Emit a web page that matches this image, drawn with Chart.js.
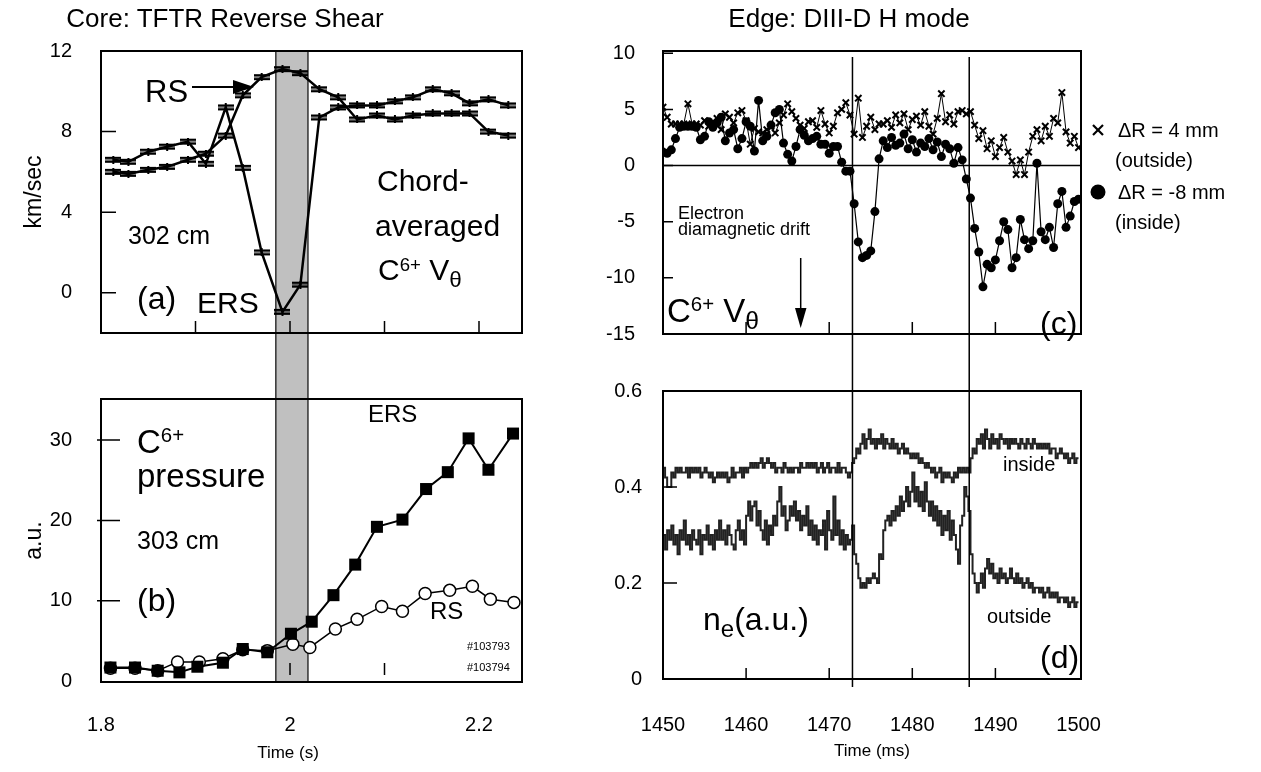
<!DOCTYPE html>
<html>
<head>
<meta charset="utf-8">
<script src="https://cdn.jsdelivr.net/npm/chart.js@4.4.1/dist/chart.umd.min.js"></script>
<style>
    body { margin: 0; background: #fff; }
    #page { position: relative; width: 1261px; height: 772px; overflow: hidden;
            font-family: 'Liberation Sans', Arial, sans-serif; color: #000; }
    #page canvas { position: absolute; }
    .t { position: absolute; white-space: nowrap; line-height: 1; }
    .t sup { font-size: 0.62em; vertical-align: 0.5em; line-height: 0; }
    .t sub { font-size: 0.75em; vertical-align: -0.3em; line-height: 0; }
    svg { position: absolute; left: 0; top: 0; }
</style>
</head>
<body>
<div id="page">
    <canvas id="chartA" width="560" height="366" style="left:0;top:0"></canvas>
    <canvas id="chartB" width="560" height="406" style="left:0;top:366px"></canvas>
    <canvas id="chartC" width="701" height="366" style="left:560px;top:0"></canvas>
    <canvas id="chartD" width="701" height="406" style="left:560px;top:366px"></canvas>
    <svg width="1261" height="772">
        <line x1="192" y1="87" x2="236" y2="87" stroke="#000" stroke-width="2"/>
        <polygon points="233,80 233,94 254,87" fill="#000"/>
        <line x1="800.7" y1="258" x2="800.7" y2="312" stroke="#000" stroke-width="1.5"/>
        <polygon points="795,308 806.5,308 800.7,328" fill="#000"/>
        <line x1="1093" y1="125" x2="1103" y2="135" stroke="#000" stroke-width="2.2"/>
        <line x1="1093" y1="135" x2="1103" y2="125" stroke="#000" stroke-width="2.2"/>
        <circle cx="1098" cy="192" r="7.5" fill="#000"/>
    </svg>
</div>

<script>
// ---- Panel (a): chord-averaged C6+ V_theta, km/sec
const aTime = [1.813, 1.829, 1.850, 1.870, 1.892, 1.911, 1.932, 1.950, 1.970, 1.992, 2.011,
               2.031, 2.051, 2.071, 2.092, 2.111, 2.130, 2.151, 2.171, 2.190, 2.210, 2.231];
const aERS = [6.6, 6.5, 7.0, 7.25, 7.5, 6.4, 9.2, 6.2, 2.0, -0.95, 0.4,
              8.7, 9.2, 9.3, 9.3, 9.5, 9.7, 10.1, 9.9, 9.4, 9.6, 9.3];
const aRS  = [6.0, 5.9, 6.1, 6.25, 6.6, 6.9, 7.8, 9.8, 10.7, 11.1, 10.9,
              10.1, 9.7, 8.6, 8.8, 8.6, 8.8, 8.9, 8.9, 8.9, 8.0, 7.8];
const aYTicks = [0, 4, 8, 12];

// ---- Panel (b): C6+ pressure, a.u.
const bTimeERS = [1.810, 1.836, 1.860, 1.883, 1.902, 1.929, 1.950, 1.976, 2.001, 2.023,
                  2.046, 2.069, 2.092, 2.119, 2.144, 2.167, 2.189, 2.210, 2.236];
const bERS = [1.7, 1.7, 1.3, 1.1, 1.8, 2.3, 4.0, 3.6, 5.9, 7.4,
              10.7, 14.5, 19.2, 20.1, 23.9, 26.0, 30.2, 26.3, 30.8];
const bTimeRS = [1.810, 1.836, 1.860, 1.881, 1.904, 1.929, 1.950, 1.976, 2.003, 2.021,
                 2.048, 2.071, 2.097, 2.119, 2.143, 2.169, 2.193, 2.212, 2.237];
const bRS = [1.6, 1.6, 1.3, 2.4, 2.4, 2.8, 3.9, 3.8, 4.6, 4.2,
             6.5, 7.7, 9.3, 8.7, 10.9, 11.3, 11.8, 10.2, 9.8];
const bYTicks = [0, 10, 20, 30];
const leftXTicks = [1.8, 2, 2.2];
const shearBand = [1.985, 2.019];

// ---- Panel (c): edge C6+ V_theta, sampled every 0.5 ms from 1450 ms
const cStart = 1450, cStep = 0.5;
const cInside = [
    1.2, 1.1, 1.4, 2.4, 3.4, 3.5, 3.5, 3.5, 3.4, 2.3,
    2.6, 3.9, 3.4, 3.8, 4.3, 2.2, 2.9, 3.2, 1.5, 2.4,
    3.9, 3.5, 1.3, 5.8, 2.2, 2.6, 3.6, 4.7, 5.0, 2.0,
    1.0, 0.4, 1.7, 3.2, 2.7, 2.2, 2.4, 2.6, 1.9, 1.9,
    1.1, 1.7, 1.7, 0.3, -0.5, -0.5, -3.4, -6.8, -8.2, -8.0,
    -7.6, -4.1, 0.6, 2.2, 1.6, 2.5, 1.8, 2.0, 2.8, 1.5,
    2.3, 1.2, 2.0, 1.7, 2.4, 1.4, 2.1, 0.8, 1.9, 1.5,
    0.2, 1.6, 0.5, -1.2, -2.9, -5.6, -7.7, -10.8, -8.8, -9.1,
    -8.4, -6.7, -5.0, -5.7, -9.1, -8.2, -4.8, -6.6, -7.4, -6.7,
    0.2, -5.9, -6.6, -5.5, -7.3, -3.4, -2.3, -5.5, -4.5, -3.2,
    -3.0
];
const cOutside = [
    5.2, 4.3, 3.7, 3.7, 3.7, 3.7, 5.5, 3.7, 3.7, 3.6,
    4.0, 3.5, 3.9, 4.2, 3.2, 4.6, 4.3, 3.8, 4.7, 4.9,
    4.0, 1.9, 3.3, 3.0, 2.9, 3.2, 3.5, 2.9, 3.8, 4.5,
    5.5, 4.8, 4.2, 3.6, 3.3, 3.9, 4.0, 3.4, 4.9, 3.7,
    2.9, 3.5, 4.7, 5.0, 5.6, 4.5, 2.8, 6.0, 2.5, 3.5,
    4.3, 3.2, 3.7, 3.7, 4.0, 3.4, 4.5, 3.8, 4.6, 3.2,
    4.1, 4.4, 3.6, 4.8, 3.5, 2.8, 4.2, 6.4, 3.9, 4.5,
    3.7, 4.8, 4.9, 4.6, 4.8, 3.6, 2.4, 3.1, 1.5, 2.2,
    0.8, 1.6, 2.5, 1.2, 0.4, -0.8, 0.5, -0.8, 1.2, 2.6,
    3.2, 2.2, 3.5, 2.6, 4.2, 3.8, 6.5, 3.0, 2.0, 2.6,
    1.6
];
const cYTicks = [-15, -10, -5, 0, 5, 10];

// ---- Panel (d): edge density, sampled every 0.25 ms from 1450 ms
const dStart = 1450, dStep = 0.25;
const dInside = [
    0.44, 0.42, 0.40, 0.40, 0.43, 0.42, 0.44, 0.43, 0.44, 0.43, 0.43, 0.44,
    0.42, 0.44, 0.43, 0.44, 0.43, 0.44, 0.42, 0.43, 0.44, 0.43, 0.42, 0.43,
    0.41, 0.42, 0.43, 0.42, 0.43, 0.42, 0.43, 0.41, 0.42, 0.44, 0.42, 0.43,
    0.43, 0.44, 0.42, 0.44, 0.43, 0.44, 0.45, 0.44, 0.45, 0.44, 0.45, 0.46,
    0.44, 0.45, 0.46, 0.45, 0.44, 0.45, 0.43, 0.44, 0.44, 0.43, 0.45, 0.44,
    0.43, 0.44, 0.43, 0.44, 0.44, 0.43, 0.45, 0.44, 0.44, 0.45, 0.44, 0.45,
    0.44, 0.45, 0.43, 0.44, 0.45, 0.43, 0.44, 0.45, 0.43, 0.44, 0.44, 0.43,
    0.45, 0.43, 0.44, 0.44, 0.43, 0.42, 0.43, 0.45, 0.46, 0.48, 0.47, 0.49,
    0.51, 0.48, 0.50, 0.52, 0.49, 0.50, 0.48, 0.50, 0.49, 0.51, 0.48, 0.50,
    0.49, 0.48, 0.50, 0.48, 0.49, 0.47, 0.48, 0.49, 0.47, 0.48, 0.47, 0.46,
    0.47, 0.46, 0.47, 0.45, 0.46, 0.45, 0.44, 0.45, 0.44, 0.43, 0.44, 0.42,
    0.43, 0.44, 0.41, 0.43, 0.42, 0.43, 0.42, 0.41, 0.43, 0.42, 0.44, 0.43,
    0.44, 0.43, 0.44, 0.43, 0.46, 0.48, 0.47, 0.50, 0.49, 0.51, 0.48, 0.52,
    0.50, 0.48, 0.51, 0.49, 0.50, 0.48, 0.51, 0.50, 0.49, 0.50, 0.48, 0.50,
    0.49, 0.50, 0.49, 0.48, 0.50, 0.49, 0.48, 0.50, 0.49, 0.48, 0.50, 0.49,
    0.48, 0.49, 0.48, 0.49, 0.48, 0.49, 0.47, 0.48, 0.48, 0.46, 0.47, 0.48,
    0.47, 0.46, 0.47, 0.45, 0.46, 0.47, 0.45, 0.46, 0.46
];
const dOutside = [
    0.30, 0.27, 0.31, 0.29, 0.32, 0.28, 0.30, 0.26, 0.31, 0.29, 0.33, 0.28,
    0.30, 0.27, 0.31, 0.29, 0.28, 0.31, 0.26, 0.30, 0.29, 0.32, 0.28, 0.30,
    0.27, 0.31, 0.29, 0.33, 0.29, 0.31, 0.28, 0.32, 0.30, 0.28, 0.27, 0.31,
    0.33, 0.29, 0.31, 0.28, 0.34, 0.37, 0.33, 0.36, 0.37, 0.32, 0.35, 0.31,
    0.29, 0.33, 0.28, 0.32, 0.30, 0.34, 0.32, 0.37, 0.40, 0.34, 0.36, 0.31,
    0.33, 0.36, 0.34, 0.37, 0.33, 0.35, 0.31, 0.34, 0.32, 0.36, 0.30, 0.33,
    0.29, 0.32, 0.28, 0.31, 0.30, 0.33, 0.27, 0.35, 0.31, 0.29, 0.38, 0.30,
    0.33, 0.28, 0.31, 0.27, 0.30, 0.28, 0.29, 0.32, 0.26, 0.24, 0.21, 0.19,
    0.20, 0.19, 0.21, 0.20, 0.21, 0.22, 0.21, 0.20, 0.26, 0.25, 0.31, 0.33,
    0.34, 0.32, 0.35, 0.33, 0.36, 0.34, 0.38, 0.35, 0.37, 0.40, 0.36, 0.39,
    0.43, 0.37, 0.40, 0.36, 0.39, 0.35, 0.41, 0.37, 0.34, 0.37, 0.33, 0.36,
    0.32, 0.35, 0.30, 0.34, 0.31, 0.35, 0.29, 0.33, 0.30, 0.27, 0.24, 0.32,
    0.34, 0.40, 0.38, 0.35, 0.26, 0.22, 0.20, 0.18, 0.20, 0.22, 0.19, 0.23,
    0.25, 0.22, 0.24, 0.21, 0.22, 0.20, 0.23, 0.21, 0.22, 0.20, 0.21, 0.23,
    0.21, 0.20, 0.22, 0.20, 0.21, 0.19, 0.20, 0.21, 0.19, 0.20, 0.18, 0.19,
    0.19, 0.18, 0.19, 0.17, 0.18, 0.19, 0.17, 0.18, 0.17, 0.18, 0.16, 0.17,
    0.17, 0.16, 0.17, 0.15, 0.16, 0.17, 0.15, 0.16, 0.16
];
const dYTicks = [0, 0.2, 0.4, 0.6];
const rightXTicks = [1450, 1460, 1470, 1480, 1490, 1500];
const transitions = [1472.8, 1486.85];

Chart.defaults.font.family = "'Liberation Sans', Arial, sans-serif";
Chart.defaults.color = '#000';
Chart.defaults.animation = false;

// Horizontal "error bar" marker used in panel (a)
function makeBarMarker() {
    const c = document.createElement('canvas');
    c.width = 16;
    c.height = 8;
    const g = c.getContext('2d');
    g.fillStyle = '#000';
    g.fillRect(0, 1, 16, 2.5);
    g.fillRect(0, 4.5, 16, 2.5);
    g.fillRect(7, 0, 2, 8);
    return c;
}

function pairs(xs, ys) {
    return ys.map((y, i) => ({ x: xs[i], y: y }));
}

function gridTimes(start, step, n) {
    const out = [];
    for (let i = 0; i < n; i++) out.push(start + step * i);
    return out;
}

// Frame, inward ticks, shaded band, zero line, vertical markers
const decor = {
    id: 'decor',
    beforeDatasetsDraw(chart, args, o) {
        const { ctx, chartArea: a } = chart;
        const xs = chart.scales.x, ys = chart.scales.y;
        ctx.save();
        if (o.band) {
            const x0 = xs.getPixelForValue(o.band[0]);
            const x1 = xs.getPixelForValue(o.band[1]);
            const y0 = o.bandToEdgeTop ? 0 : a.top;
            const y1 = o.bandToEdgeBottom ? chart.height : a.bottom;
            ctx.fillStyle = '#c0c0c0';
            ctx.fillRect(x0, y0, x1 - x0, y1 - y0);
            ctx.strokeStyle = '#333';
            ctx.lineWidth = 1.5;
            ctx.beginPath();
            ctx.moveTo(x0, y0); ctx.lineTo(x0, y1);
            ctx.moveTo(x1, y0); ctx.lineTo(x1, y1);
            ctx.stroke();
        }
        if (o.zero) {
            const y = ys.getPixelForValue(0);
            ctx.strokeStyle = '#000';
            ctx.lineWidth = 1.5;
            ctx.beginPath();
            ctx.moveTo(a.left, y); ctx.lineTo(a.right, y);
            ctx.stroke();
        }
        ctx.restore();
    },
    afterDatasetsDraw(chart, args, o) {
        const { ctx, chartArea: a } = chart;
        const xs = chart.scales.x, ys = chart.scales.y;
        ctx.save();
        ctx.strokeStyle = '#000';
        ctx.lineWidth = 2;
        ctx.strokeRect(a.left, a.top, a.right - a.left, a.bottom - a.top);
        ctx.lineWidth = 1.5;
        ctx.beginPath();
        (o.yTicks || []).forEach(v => {
            const y = ys.getPixelForValue(v);
            ctx.moveTo(a.left - (o.yOut || 0), y);
            ctx.lineTo(a.left + o.yLen, y);
        });
        (o.xTicks || []).forEach(v => {
            const x = xs.getPixelForValue(v);
            const gap = o.xGap || 0;
            ctx.moveTo(x, a.bottom - gap);
            ctx.lineTo(x, a.bottom - gap - o.xLen);
        });
        ctx.stroke();
        if (o.vlines) {
            const y0 = o.vToEdgeTop ? 0 : a.top + 6;
            const y1 = o.vToEdgeBottom ? chart.height : a.bottom + 8;
            ctx.beginPath();
            o.vlines.forEach(v => {
                const x = xs.getPixelForValue(v);
                ctx.moveTo(x, y0); ctx.lineTo(x, y1);
            });
            ctx.stroke();
        }
        ctx.restore();
    }
};

function yAxis(min, max, ticks, pad, width, title) {
    return {
        type: 'linear', position: 'left', min: min, max: max,
        grid: { display: false }, border: { display: false },
        afterBuildTicks: s => { s.ticks = ticks.map(v => ({ value: v })); },
        afterFit: s => { s.width = width; },
        ticks: { font: { size: 20 }, padding: pad, callback: v => String(v) },
        title: title
            ? { display: true, text: title, font: { size: 23 }, padding: { top: 21, bottom: 0 } }
            : { display: false }
    };
}

function xAxis(min, max, ticks, pad, height, title) {
    if (!ticks) return { type: 'linear', min: min, max: max, display: false };
    return {
        type: 'linear', position: 'bottom', min: min, max: max,
        grid: { display: false }, border: { display: false },
        afterBuildTicks: s => { s.ticks = ticks.map(v => ({ value: v })); },
        afterFit: s => { s.height = height; },
        ticks: { font: { size: 20 }, padding: pad, maxRotation: 0, autoSkip: false, callback: v => String(v) },
        title: title
            ? { display: true, text: title, font: { size: 17 }, padding: { top: 0, bottom: 10 } }
            : { display: false }
    };
}

function baseOptions(padding, scales, decorOpts) {
    return {
        responsive: false,
        events: [],
        layout: { padding: padding },
        scales: scales,
        plugins: { legend: { display: false }, tooltip: { enabled: false }, decor: decorOpts }
    };
}

const barMarker = makeBarMarker();

// Panel (a)
new Chart(document.getElementById('chartA'), {
    type: 'line',
    data: {
        datasets: [
            { label: 'ERS', data: pairs(aTime, aERS), borderColor: '#000', borderWidth: 2.5,
              pointStyle: barMarker, pointRadius: 8 },
            { label: 'RS', data: pairs(aTime, aRS), borderColor: '#000', borderWidth: 2.5,
              pointStyle: barMarker, pointRadius: 8 }
        ]
    },
    options: baseOptions(
        { left: 0, right: 38, top: 51, bottom: 20 },
        { x: xAxis(1.8, 2.2455), y: yAxis(-2, 12, aYTicks, 21, 101, 'km/sec') },
        { band: shearBand, bandToEdgeBottom: true, yTicks: aYTicks, yLen: 15,
          xTicks: [1.9, 2.0, 2.1, 2.2], xLen: 12 }
    ),
    plugins: [decor]
});

// Panel (b): first dataset is drawn on top, so the filled squares come first
new Chart(document.getElementById('chartB'), {
    type: 'line',
    data: {
        datasets: [
            { label: 'ERS', data: pairs(bTimeERS, bERS), borderColor: '#000', borderWidth: 2,
              pointStyle: 'rect', pointRadius: 8.5, pointBackgroundColor: '#000',
              pointBorderColor: '#000', pointBorderWidth: 0 },
            { label: 'RS', data: pairs(bTimeRS, bRS), borderColor: '#000', borderWidth: 1.5,
              pointStyle: 'circle', pointRadius: 6, pointBackgroundColor: '#fff',
              pointBorderColor: '#000', pointBorderWidth: 1.5 }
        ]
    },
    options: baseOptions(
        { left: 0, right: 38, top: 20, bottom: 0 },
        { x: xAxis(1.8, 2.2455, leftXTicks, 23, 90), y: yAxis(-0.1, 35.1, bYTicks, 21, 101, 'a.u.') },
        { band: shearBand, bandToEdgeTop: true, yTicks: [10, 20, 30], yLen: 19, yOut: 4,
          xTicks: [2.0, 2.1], xLen: 12, xGap: 7 }
    ),
    plugins: [decor]
});

// Panel (c)
const cTimes = gridTimes(cStart, cStep, cInside.length);
new Chart(document.getElementById('chartC'), {
    type: 'line',
    data: {
        datasets: [
            { label: 'ΔR = 4 mm (outside)', data: pairs(cTimes, cOutside), borderColor: '#000',
              borderWidth: 1, pointStyle: 'crossRot', pointRadius: 4.5, pointBorderWidth: 2,
              pointBorderColor: '#000' },
            { label: 'ΔR = -8 mm (inside)', data: pairs(cTimes, cInside), borderColor: '#000',
              borderWidth: 1.2, pointStyle: 'circle', pointRadius: 4.5, pointBackgroundColor: '#000',
              pointBorderColor: '#000', pointBorderWidth: 0 }
        ]
    },
    options: baseOptions(
        { left: 0, right: 180, top: 51, bottom: 20 },
        { x: xAxis(1450, 1500.3), y: yAxis(-15, 10.2, cYTicks, 20, 103) },
        { zero: true, yTicks: [-10, -5, 0, 5, 10], yLen: 10, xTicks: [1460, 1470, 1480, 1490], xLen: 12,
          vlines: transitions, vToEdgeBottom: true }
    ),
    plugins: [decor]
});

// Panel (d)
const dTimes = gridTimes(dStart, dStep, dInside.length);
new Chart(document.getElementById('chartD'), {
    type: 'line',
    data: {
        datasets: [
            { label: 'inside', data: pairs(dTimes, dInside), borderColor: '#222', borderWidth: 2,
              stepped: true, pointRadius: 0 },
            { label: 'outside', data: pairs(dTimes, dOutside), borderColor: '#222', borderWidth: 2,
              stepped: true, pointRadius: 0 }
        ]
    },
    options: baseOptions(
        { left: 0, right: 180, top: 20, bottom: 0 },
        { x: xAxis(1450, 1500.3, rightXTicks, 26, 93, 'Time (ms)'), y: yAxis(0, 0.6, dYTicks, 13, 103) },
        { yTicks: [0.2, 0.4, 0.6], yLen: 14, xTicks: [1460, 1470, 1480, 1490], xLen: 11,
          vlines: transitions, vToEdgeTop: true }
    ),
    plugins: [decor]
});

// Text annotations
const notes = [
    { html: 'Core: TFTR Reverse Shear', x: 225, y: 18, size: 26, center: true },
    { html: 'Edge: DIII-D H mode', x: 849, y: 18, size: 26, center: true },
    { html: 'RS', x: 145, y: 91, size: 31 },
    { html: '302 cm', x: 128, y: 235, size: 25 },
    { html: '(a)', x: 137, y: 298, size: 32 },
    { html: 'ERS', x: 197, y: 303, size: 30 },
    { html: 'Chord-', x: 377, y: 181, size: 30 },
    { html: 'averaged', x: 375, y: 226, size: 30 },
    { html: 'C<sup>6+</sup> V<sub>θ</sub>', x: 378, y: 270, size: 30 },
    { html: 'C<sup>6+</sup>', x: 137, y: 441, size: 33 },
    { html: 'pressure', x: 137, y: 475, size: 33 },
    { html: '303 cm', x: 137, y: 540, size: 25 },
    { html: '(b)', x: 137, y: 600, size: 32 },
    { html: 'ERS', x: 368, y: 414, size: 24 },
    { html: 'RS', x: 430, y: 611, size: 24 },
    { html: '#103793', x: 467, y: 646, size: 11 },
    { html: '#103794', x: 467, y: 667, size: 11 },
    { html: 'Time (s)', x: 288, y: 752, size: 17, center: true },
    { html: 'Electron', x: 678, y: 213, size: 18 },
    { html: 'diamagnetic drift', x: 678, y: 229, size: 18 },
    { html: 'C<sup>6+</sup> V<sub>θ</sub>', x: 667, y: 310, size: 33 },
    { html: '(c)', x: 1040, y: 323, size: 32 },
    { html: 'ΔR = 4 mm', x: 1118, y: 130, size: 20 },
    { html: '(outside)', x: 1115, y: 160, size: 20 },
    { html: 'ΔR = -8 mm', x: 1118, y: 192, size: 20 },
    { html: '(inside)', x: 1115, y: 222, size: 20 },
    { html: 'inside', x: 1003, y: 464, size: 20 },
    { html: 'outside', x: 987, y: 616, size: 20 },
    { html: '(d)', x: 1040, y: 657, size: 32 },
    { html: 'n<sub>e</sub>(a.u.)', x: 703, y: 619, size: 32 }
];

const page = document.getElementById('page');
notes.forEach(n => {
    const d = document.createElement('div');
    d.className = 't';
    d.innerHTML = n.html;
    d.style.left = n.x + 'px';
    d.style.top = n.y + 'px';
    d.style.fontSize = n.size + 'px';
    d.style.transform = n.center ? 'translate(-50%, -50%)' : 'translate(0, -50%)';
    page.appendChild(d);
});
</script>
</body>
</html>
